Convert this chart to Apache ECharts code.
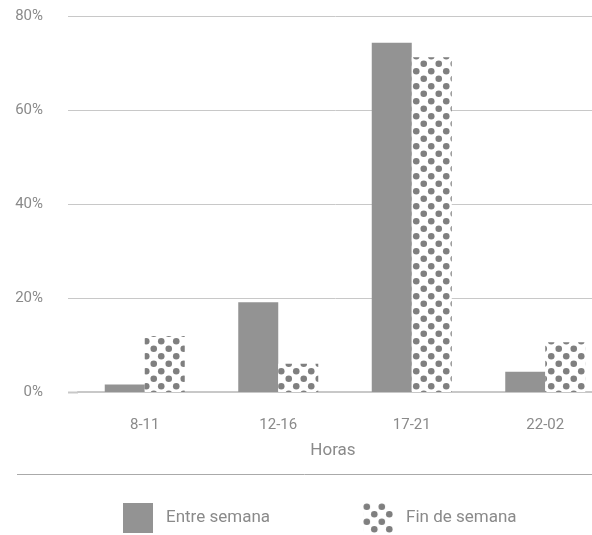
<!DOCTYPE html>
<html><head><meta charset="utf-8">
<script src="https://cdn.jsdelivr.net/npm/echarts@6/dist/echarts.min.js"></script>
<style>html,body{margin:0;padding:0;background:#fff}#c{width:592px;height:535px}</style>
</head><body><div id="c"></div>
<script>
const categories = ['8-11', '12-16', '17-21', '22-02'];
const entreSemana = [1.6, 19.1, 74.3, 4.3];
const finDeSemana = [11.9, 6.0, 71.2, 10.6];
const yTicks = [0, 20, 40, 60, 80];
const xName = 'Horas';
const seriesNames = ['Entre semana', 'Fin de semana'];

function makePattern() {
  const c = document.createElement('canvas');
  c.width = 15; c.height = 15;
  const g = c.getContext('2d');
  g.fillStyle = '#ffffff'; g.fillRect(0, 0, 15, 15);
  g.fillStyle = '#7f7f7f';
  const pts = [[3.75, 3.75], [11.25, 11.25], [-3.75, 11.25], [18.75, 3.75], [11.25, -3.75], [3.75, 18.75]];
  pts.forEach(p => { g.beginPath(); g.arc(p[0], p[1], 3.3, 0, Math.PI * 2); g.fill(); });
  return c;
}
const pattern = { image: makePattern(), repeat: 'repeat' };
const txt = '#8a8a8a';
const font = 'Roboto, "Liberation Sans", sans-serif';

const chart = echarts.init(document.getElementById('c'), null, { renderer: 'canvas' });
chart.setOption({
  animation: false,
  backgroundColor: '#fff',
  textStyle: { fontFamily: font },
  grid: { left: 78, width: 534, top: 16, height: 376, containLabel: false, outerBoundsMode: 'none' },
  legend: {
    left: 118, top: 498, itemWidth: 30, itemHeight: 30, itemGap: 93,
    icon: 'rect',
    textStyle: { color: txt, fontSize: 17, fontFamily: font, padding: [0, 0, 0, 8] },
    data: seriesNames
  },
  xAxis: {
    type: 'category', data: categories,
    name: xName, nameLocation: 'middle', nameGap: 50,
    nameTextStyle: { color: txt, fontSize: 17, fontFamily: font, padding: [0, 24, 0, 0] },
    axisLine: { lineStyle: { color: '#c8c8c8', width: 2 } },
    axisTick: { show: false },
    axisLabel: { color: txt, fontSize: 15, margin: 26, fontFamily: font }
  },
  yAxis: {
    type: 'value', min: yTicks[0], max: yTicks[yTicks.length - 1], interval: 20,
    axisLine: { show: false }, axisTick: { show: false },
    axisLabel: { color: txt, fontSize: 15, margin: 35, formatter: '{value}%', fontFamily: font },
    splitLine: { lineStyle: { color: '#c8c8c8', width: 1 } }
  },
  series: [
    { name: seriesNames[0], type: 'bar', data: entreSemana, barWidth: 40, barGap: '0%',
      itemStyle: { color: '#939393' } },
    { name: seriesNames[1], type: 'bar', data: finDeSemana, barWidth: 40, barGap: '0%',
      itemStyle: { color: pattern } }
  ]
});

const gl = [];
yTicks.forEach(t => {
  const y = Math.round(chart.convertToPixel({ yAxisIndex: 0 }, t)) + 0.5;
  gl.push({ type: 'line', shape: { x1: 68, y1: y, x2: 78, y2: y }, style: { stroke: '#c8c8c8', lineWidth: t === 0 ? 2 : 1 }, silent: true });
});
gl.push({ type: 'line', shape: { x1: 17, y1: 474.5, x2: 592, y2: 474.5 }, style: { stroke: '#aaaaaa', lineWidth: 1 }, silent: true });
chart.setOption({ graphic: gl });
</script></body></html>
